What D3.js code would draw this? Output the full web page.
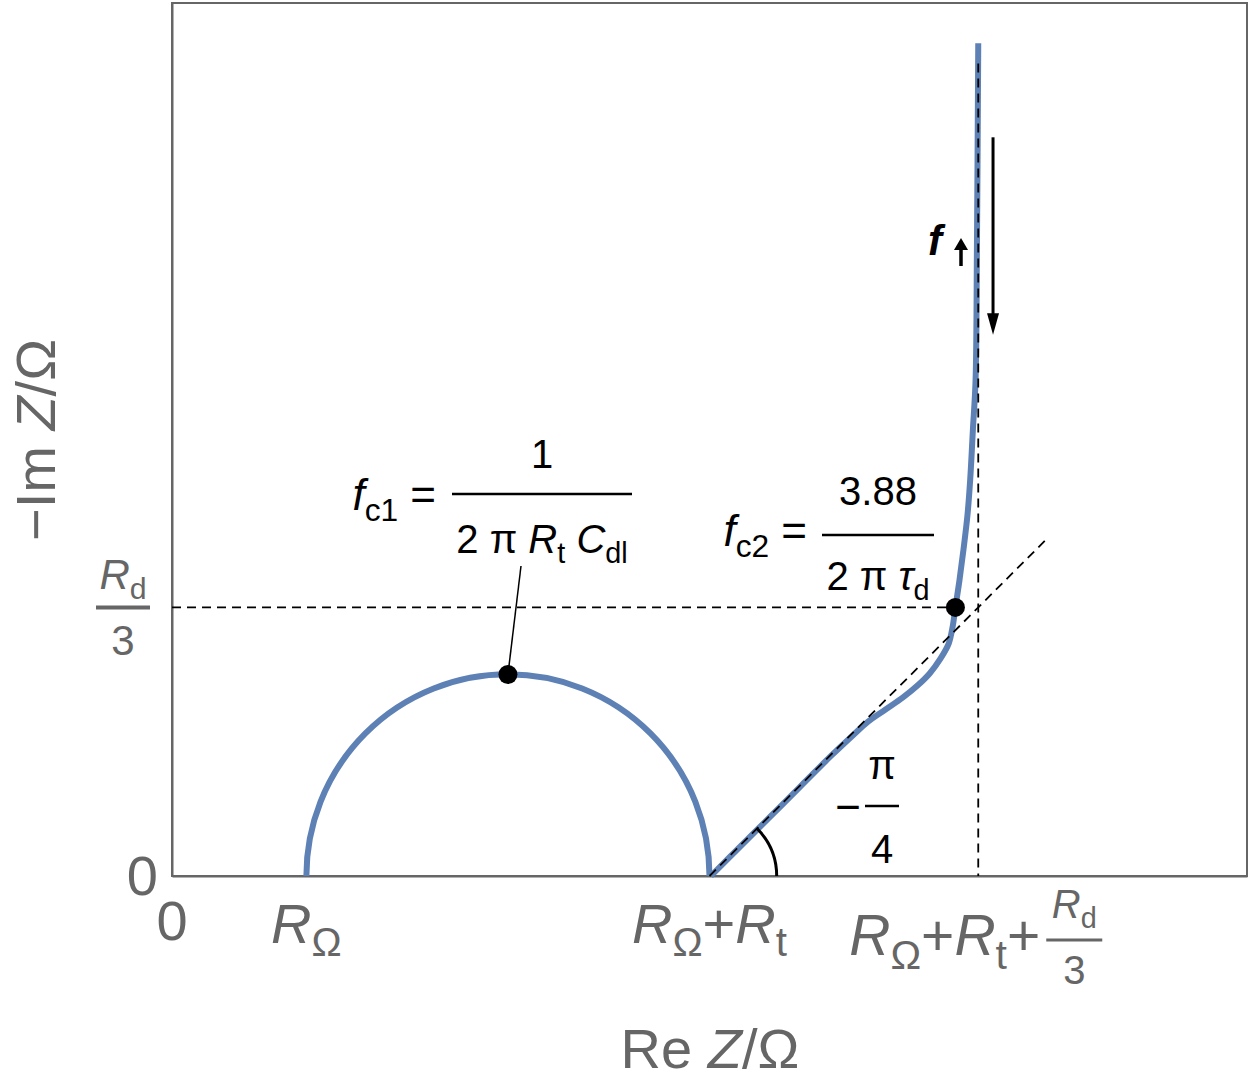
<!DOCTYPE html>
<html>
<head>
<meta charset="utf-8">
<script src="https://cdn.jsdelivr.net/npm/d3@7"></script>
<style>
  body { margin: 0; background: #fff; }
  text { font-family: "Liberation Sans", Arial, sans-serif; }
</style>
</head>
<body>
<svg id="chart" width="1250" height="1085"></svg>
<script>
const R_ohm = 1, R_t = 3, R_d = 6;

const xTicks = [0, 1, 4, 6];
const yTicks = [0, 2];

// finite-length Warburg branch (Re Z, -Im Z)
const warbRe = [4.01, 4.23, 4.45, 4.67, 4.90, 5.07, 5.18, 5.31, 5.44, 5.55, 5.64, 5.72, 5.78, 5.81, 5.83, 5.86, 5.89, 5.92, 5.94, 5.96, 5.98, 5.99, 6.00];
const warbIm = [0.00, 0.22, 0.44, 0.66, 0.89, 1.05, 1.15, 1.24, 1.33, 1.42, 1.51, 1.62, 1.73, 1.86, 2.00, 2.20, 2.43, 2.69, 2.95, 3.32, 3.69, 4.66, 6.20];

const fc2Index = 14;

const W = 1250, H = 1085;
const plot = { left: 172, right: 1247, top: 3, bottom: 876 };
const grey = "#666666", blue = "#5E81B5";

const svg = d3.select("#chart");

const x = d3.scaleLinear().domain([0, 8]).range([plot.left, plot.right]);
const y = d3.scaleLinear().domain([0, 6.5]).range([plot.bottom, plot.top]);

// helper: text made of plain / italic / subscript pieces
function rich(g, px, py, parts, size, anchor, fill) {
    const t = g.append("text")
        .attr("x", px).attr("y", py)
        .attr("font-size", size)
        .attr("text-anchor", anchor || "start")
        .attr("fill", fill || "#000");
    let shift = 0;
    parts.forEach(function(p) {
        const target = p.sub ? size * 0.24 : 0;
        const s = t.append("tspan").text(p.t).attr("dy", target - shift);
        shift = target;
        if (p.sub) s.attr("font-size", size * 0.72);
        if (p.i) s.attr("font-style", "italic");
        if (p.b) s.attr("font-weight", "bold");
    });
    return t;
}

// helper: stacked fraction centred on cx with bar at barY
function frac(g, cx, barY, halfW, num, den, size, fill, upN, downD, barW) {
    g.append("line")
        .attr("x1", cx - halfW).attr("x2", cx + halfW)
        .attr("y1", barY).attr("y2", barY)
        .attr("stroke", fill).attr("stroke-width", barW || 3);
    rich(g, cx, barY - upN, num, size, "middle", fill);
    rich(g, cx, barY + downD, den, size, "middle", fill);
}

// frame + axes
svg.append("g")
    .attr("transform", "translate(0," + plot.bottom + ")")
    .call(d3.axisBottom(x).tickValues(xTicks).tickSize(0).tickFormat(""))
    .call(g => g.select(".domain").attr("stroke", grey).attr("stroke-width", 2));
svg.append("g")
    .attr("transform", "translate(" + plot.left + ",0)")
    .call(d3.axisLeft(y).tickValues(yTicks).tickSize(0).tickFormat(""))
    .call(g => g.select(".domain").attr("stroke", grey).attr("stroke-width", 2));
svg.append("rect")
    .attr("x", plot.left).attr("y", plot.top)
    .attr("width", plot.right - plot.left).attr("height", plot.bottom - plot.top)
    .attr("fill", "none").attr("stroke", grey).attr("stroke-width", 2);

// tick labels
const tl = svg.append("g");
rich(tl, x(0), 940, [{ t: "0" }], 56, "middle", grey);
rich(tl, x(1), 943, [{ t: "R", i: 1 }, { t: "Ω", sub: 1 }], 56, "middle", grey);
rich(tl, x(4), 943, [{ t: "R", i: 1 }, { t: "Ω", sub: 1 }, { t: "+" }, { t: "R", i: 1 }, { t: "t", sub: 1 }], 56, "middle", grey);
rich(tl, x(6) + 62, 955, [{ t: "R", i: 1 }, { t: "Ω", sub: 1 }, { t: "+" }, { t: "R", i: 1 }, { t: "t", sub: 1 }, { t: "+" }], 57, "end", grey);
frac(tl, x(6) + 96, 940, 28, [{ t: "R", i: 1 }, { t: "d", sub: 1 }], [{ t: "3" }], 40, grey, 22, 44, 3);

rich(tl, 158, y(0) + 19, [{ t: "0" }], 56, "end", grey);
frac(tl, 123, y(2), 27, [{ t: "R", i: 1 }, { t: "d", sub: 1 }], [{ t: "3" }], 42, grey, 18, 48, 4);

// axis titles
rich(svg, 710, 1068, [{ t: "Re " }, { t: "Z", i: 1 }, { t: "/Ω" }], 56, "middle", grey);
rich(svg, 0, 0, [{ t: "−Im " }, { t: "Z", i: 1 }, { t: "/Ω" }], 56, "middle", grey)
    .attr("transform", "translate(55,440) rotate(-90)");

// semicircle (charge transfer)
const cx = x(R_ohm + R_t / 2), cy = y(0), rad = x(R_ohm + R_t / 2) - x(R_ohm);
const semi = d3.path();
semi.moveTo(x(R_ohm), cy);
semi.arc(cx, cy, rad, Math.PI, 2 * Math.PI);
svg.append("path")
    .attr("d", semi.toString())
    .attr("fill", "none").attr("stroke", blue).attr("stroke-width", 6);

// Warburg branch
const line = d3.line()
    .x((d, i) => x(warbRe[i]))
    .y((d, i) => y(warbIm[i]))
    .curve(d3.curveCatmullRom.alpha(0.5));
svg.append("path")
    .datum(warbRe)
    .attr("d", line)
    .attr("fill", "none").attr("stroke", blue).attr("stroke-width", 6)
    .attr("stroke-linejoin", "round");

// guide lines (drawn over the curve, as in the original)
const guides = svg.append("g")
    .attr("stroke", "#000").attr("stroke-width", 1.8)
    .attr("stroke-dasharray", "9,6").attr("fill", "none");
guides.append("line")
    .attr("x1", x(0)).attr("x2", x(warbRe[fc2Index]))
    .attr("y1", y(R_d / 3)).attr("y2", y(R_d / 3));
guides.append("line")
    .attr("x1", x(R_ohm + R_t + R_d / 3)).attr("x2", x(R_ohm + R_t + R_d / 3))
    .attr("y1", y(6.05)).attr("y2", y(0));
guides.append("line")
    .attr("x1", x(R_ohm + R_t)).attr("y1", y(0))
    .attr("x2", x(R_ohm + R_t + 2.5)).attr("y2", y(2.5));

// characteristic frequency points
const pts = [[R_ohm + R_t / 2, R_t / 2], [warbRe[fc2Index], warbIm[fc2Index]]];
svg.append("line")
    .attr("x1", x(pts[0][0])).attr("y1", y(pts[0][1]))
    .attr("x2", 521).attr("y2", 566)
    .attr("stroke", "#000").attr("stroke-width", 1.5);
svg.selectAll("circle.pt").data(pts).join("circle")
    .attr("class", "pt")
    .attr("cx", d => x(d[0])).attr("cy", d => y(d[1]))
    .attr("r", 9.5).attr("fill", "#000");

// angle marker -pi/4
const ang = d3.path();
const ar = x(R_ohm + R_t + 0.5) - x(R_ohm + R_t);
ang.moveTo(x(R_ohm + R_t) + ar, y(0));
ang.arc(x(R_ohm + R_t), y(0), ar, 0, -Math.PI / 4, true);
svg.append("path").attr("d", ang.toString())
    .attr("fill", "none").attr("stroke", "#000").attr("stroke-width", 3);

const ann = svg.append("g");
rich(ann, 861, 822, [{ t: "−" }], 44, "end", "#000");
frac(ann, 882, 806, 17, [{ t: "π" }], [{ t: "4" }], 40, "#000", 27, 57, 2.5);

// fc1 formula
rich(ann, 436, 510, [{ t: "f", i: 1 }, { t: "c1", sub: 1 }, { t: " =" }], 44, "end", "#000");
frac(ann, 542, 494, 90, [{ t: "1" }],
    [{ t: "2 π " }, { t: "R", i: 1 }, { t: "t", sub: 1 }, { t: " " }, { t: "C", i: 1 }, { t: "dl", sub: 1 }], 40, "#000", 26, 59, 2.5);

// fc2 formula
rich(ann, 807, 546, [{ t: "f", i: 1 }, { t: "c2", sub: 1 }, { t: " =" }], 44, "end", "#000");
frac(ann, 878, 535, 56, [{ t: "3.88" }],
    [{ t: "2 π " }, { t: "τ", i: 1 }, { t: "d", sub: 1 }], 40, "#000", 30, 55, 2.5);

// frequency direction arrow
const arrX = x(6.11);
ann.append("line")
    .attr("x1", arrX).attr("x2", arrX).attr("y1", y(5.5)).attr("y2", y(4.18))
    .attr("stroke", "#000").attr("stroke-width", 3);
ann.append("path")
    .attr("d", "M" + (arrX - 6) + "," + y(4.19) + "L" + (arrX + 6) + "," + y(4.19) + "L" + arrX + "," + y(4.03) + "Z")
    .attr("fill", "#000");
rich(ann, 928, 255, [{ t: "f", i: 1, b: 1 }], 42, "start", "#000");
ann.append("line")
    .attr("x1", 961).attr("x2", 961).attr("y1", 266).attr("y2", 247)
    .attr("stroke", "#000").attr("stroke-width", 3.5);
ann.append("path")
    .attr("d", "M954,250L968,250L961,238Z")
    .attr("fill", "#000");
</script>
</body>
</html>
